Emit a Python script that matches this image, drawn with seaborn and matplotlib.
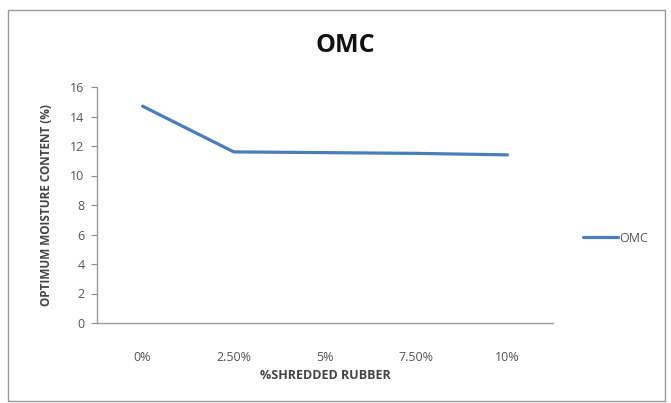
import matplotlib
matplotlib.use("Agg")
import matplotlib.pyplot as plt
from matplotlib.patches import Rectangle
import seaborn as sns
import pandas as pd

# Optimum moisture content for each rubber dosage
rubber_pct = ["0%", "2.50%", "5%", "7.50%", "10%"]
omc_values = [14.7, 11.6, 11.55, 11.5, 11.4]
y_ticks = [0, 2, 4, 6, 8, 10, 12, 14, 16]

sns.set_style("white")
plt.rcParams["font.family"] = ["Open Sans", "DejaVu Sans"]

df = pd.DataFrame({"rubber": rubber_pct, "omc": omc_values, "series": "OMC"})

W, H = 671, 403
fig = plt.figure(figsize=(W / 100, H / 100), dpi=100)
ax = fig.add_axes([97 / W, (H - 323) / H, (553 - 97) / W, (323 - 87) / H])

sns.lineplot(data=df, x="rubber", y="omc", hue="series", palette=["#4A7EBB"],
             linewidth=2.3, ax=ax, sort=False)

ax.set_xlim(-0.5, len(rubber_pct) - 0.5)
ax.set_ylim(0, 16)
ax.set_yticks(y_ticks)
ax.tick_params(axis="y", length=4, direction="out", colors="#8a8a8a",
               labelcolor="#555555", labelsize=9, pad=5, left=True)
ax.tick_params(axis="x", length=0, labelcolor="#555555", labelsize=9, pad=20)

for side in ["top", "right"]:
    ax.spines[side].set_visible(False)
for side in ["left", "bottom"]:
    ax.spines[side].set_color("#9a9a9a")
    ax.spines[side].set_linewidth(1.0)

ax.set_xlabel("%SHREDDED RUBBER", fontsize=9, fontweight="bold",
              color="#444444", labelpad=4)
ax.set_ylabel("OPTIMUM MOISTURE CONTENT (%)", fontsize=8.5, fontweight="bold",
              color="#444444", labelpad=12)

fig.text(345 / W, 1 - 45 / H, "OMC", ha="center", va="center",
         fontsize=18, fontweight="bold", color="#111111")

leg = ax.legend(loc="center left", bbox_to_anchor=(572 / W, 1 - 238 / H),
                bbox_transform=fig.transFigure, frameon=False, fontsize=9,
                handlelength=2.8, handletextpad=0.1)
for t in leg.get_texts():
    t.set_color("#555555")

fig.patches.append(Rectangle((8 / W, 2 / H), (W - 14) / W, (H - 12) / H,
                             transform=fig.transFigure, fill=False,
                             edgecolor="#9a9a9a", linewidth=1.0))

fig.savefig("out.png", dpi=100)
